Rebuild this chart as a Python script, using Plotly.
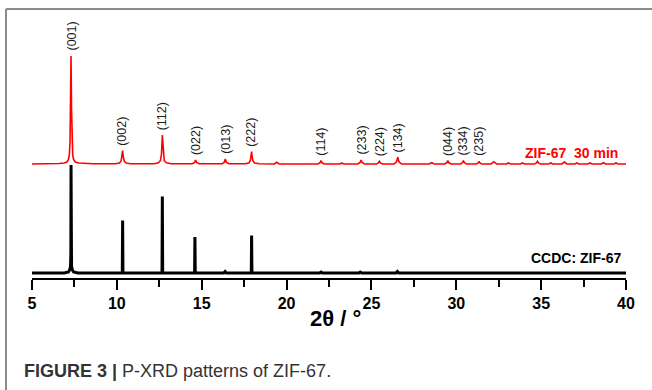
import numpy as np
import plotly.graph_objects as go

# ---------------- data ----------------
# ZIF-67 30 min (red) : 2theta and intensity above its own baseline
RED_2THETA = [5.0, 5.8, 6.05, 6.3, 6.6, 6.9, 7.05, 7.15, 7.20, 7.24, 7.27, 7.30, 7.33, 7.36, 7.40, 7.45, 7.55, 7.75, 8.1, 8.6,
              9.9, 10.15, 10.25, 10.31, 10.34, 10.37, 10.43, 10.55, 10.8,
              12.2, 12.45, 12.57, 12.63, 12.68, 12.73, 12.79, 12.92, 13.2,
              14.45, 14.58, 14.64, 14.70, 14.85,
              16.2, 16.33, 16.39, 16.45, 16.6,
              17.55, 17.78, 17.87, 17.91, 17.94, 17.97, 18.01, 18.12, 18.4,
              19.28, 19.42, 19.56,
              21.85, 21.97, 22.03, 22.09, 22.22,
              23.1, 23.25, 23.4,
              24.2, 24.33, 24.39, 24.45, 24.6,
              25.3, 25.41, 25.47, 25.53, 25.65,
              26.33, 26.48, 26.55, 26.62, 26.78,
              28.4, 28.55, 28.7,
              29.3, 29.44, 29.50, 29.56, 29.7,
              30.25, 30.36, 30.42, 30.48, 30.6,
              31.18, 31.29, 31.34, 31.39, 31.5,
              32.05, 32.22, 32.38,
              32.95, 33.07, 33.2,
              33.78, 33.9, 34.02,
              34.6, 34.72, 34.78, 34.84, 34.96,
              35.44, 35.56, 35.68,
              36.22, 36.37, 36.52,
              36.98, 37.1, 37.22,
              37.76, 37.88, 38.0,
              38.54, 38.67, 38.8,
              39.29, 39.41, 39.53,
              40.0]
RED_I = [0.0, 0.0, 0.6, 0.3, 0.5, 1.0, 2.0, 4.5, 9.0, 22.0, 55.0, 108.0, 55.0, 22.0, 9.0, 4.5, 2.0, 1.0, 0.5, 0.3,
         0.3, 1.0, 3.0, 8.0, 13.3, 8.0, 3.0, 1.0, 0.3,
         0.3, 1.2, 3.5, 10.0, 29.0, 10.0, 3.5, 1.2, 0.3,
         0.2, 1.5, 4.0, 1.5, 0.2,
         0.2, 1.8, 5.0, 1.8, 0.2,
         0.2, 1.0, 3.5, 7.5, 12.3, 7.5, 3.5, 1.0, 0.2,
         0.0, 1.7, 0.0,
         0.0, 1.2, 3.3, 1.2, 0.0,
         0.0, 0.8, 0.0,
         0.0, 1.5, 4.0, 1.5, 0.0,
         0.0, 1.0, 2.7, 1.0, 0.0,
         0.0, 2.2, 6.7, 2.2, 0.0,
         0.0, 1.3, 0.0,
         0.0, 1.2, 3.3, 1.2, 0.0,
         0.0, 1.2, 3.3, 1.2, 0.0,
         0.0, 1.0, 2.7, 1.0, 0.0,
         0.0, 2.3, 0.0,
         0.0, 1.0, 0.0,
         0.0, 1.0, 0.0,
         0.0, 1.0, 2.7, 1.0, 0.0,
         0.0, 1.0, 0.0,
         0.0, 2.0, 0.0,
         0.0, 1.0, 0.0,
         0.0, 1.0, 0.0,
         0.0, 1.3, 0.0,
         0.0, 1.0, 0.0,
         0.0]
RED_OFFSET = 109.0

# CCDC: ZIF-67 simulated pattern (black sticks)
BLACK_2THETA = [5.0, 6.9, 7.15, 7.22, 7.27, 7.29, 7.30, 7.31, 7.33, 7.38, 7.45, 7.7,
                10.32, 10.34, 10.36,
                12.66, 12.68, 12.70,
                14.58, 14.60, 14.62,
                16.30, 16.38, 16.46,
                17.92, 17.94, 17.96,
                21.95, 22.03, 22.11,
                24.26, 24.34, 24.42,
                26.45, 26.53, 26.61,
                40.0]
BLACK_I = [0.0, 0.0, 1.0, 3.0, 7.0, 20.0, 108.0, 20.0, 7.0, 3.0, 1.0, 0.0,
           0.0, 52.6, 0.0,
           0.0, 76.6, 0.0,
           0.0, 36.0, 0.0,
           0.0, 1.5, 0.0,
           0.0, 37.6, 0.0,
           0.0, 1.0, 0.0,
           0.0, 1.0, 0.0,
           0.0, 1.5, 0.0,
           0.0]

PEAK_LABELS = ["(001)", "(002)", "(112)", "(022)", "(013)", "(222)", "(114)",
               "(233)", "(224)", "(134)", "(044)", "(334)", "(235)"]
PEAK_2THETA = [7.30, 10.34, 12.68, 14.64, 16.39, 17.94, 22.03,
               24.39, 25.47, 26.55, 29.50, 30.42, 31.34]

X_TICKS = [5, 10, 15, 20, 25, 30, 35, 40]

# ---------------- figure ----------------
W, H = 652, 390
ML, MR, MT, MB = 32, 26, 20, 112
PW, PH = W - ML - MR, H - MT - MB


def px2paper(px, py):
    return (px - ML) / PW, (H - MB - py) / PH


fig = go.Figure()
fig.add_trace(go.Scatter(x=BLACK_2THETA, y=BLACK_I, mode="lines",
                         line=dict(color="black", width=3), hoverinfo="skip"))
fig.add_trace(go.Scatter(x=RED_2THETA, y=np.array(RED_I) + RED_OFFSET, mode="lines",
                         line=dict(color="#ff0000", width=1.6), hoverinfo="skip"))

rx = np.array(RED_2THETA)
ri = np.array(RED_I)
annotations = []
for lab, c in zip(PEAK_LABELS, PEAK_2THETA):
    h = ri[np.abs(rx - c) < 0.1].max() + RED_OFFSET
    annotations.append(dict(x=c, y=h, xref="x", yref="y", text=lab, textangle=-90,
                            showarrow=False, xanchor="center", yanchor="bottom", yshift=3,
                            font=dict(family="Arial", size=12.5, color="#1a1a1a")))

annotations += [
    dict(x=39.65, y=RED_OFFSET + 11.5, xref="x", yref="y", text="ZIF-67  30 min",
         showarrow=False, xanchor="right", yanchor="middle",
         font=dict(family="Arial", size=14, color="#ff0000", weight="bold")),
    dict(x=39.84, y=14.7, xref="x", yref="y", text="CCDC: ZIF-67",
         showarrow=False, xanchor="right", yanchor="middle",
         font=dict(family="Arial", size=14, color="black", weight="bold")),
]
tx, ty = px2paper(335, 318)
annotations.append(dict(x=tx, y=ty, xref="paper", yref="paper", text="2θ / °",
                        showarrow=False, xanchor="center", yanchor="middle",
                        font=dict(family="Arial", size=22, color="black", weight="bold")))
cx, cy = px2paper(22, 371)
annotations.append(dict(x=cx, y=cy, xref="paper", yref="paper",
                        text="<b>FIGURE 3 |</b> P-XRD patterns of ZIF-67.",
                        showarrow=False, xanchor="left", yanchor="middle",
                        font=dict(family="Liberation Sans, Arial", size=18, color="#333333")))

x0, y0 = px2paper(6, 9)
x1, _ = px2paper(652, 9)
_, y1 = px2paper(6, 390)
shapes = [
    dict(type="line", xref="paper", yref="paper", x0=x0, x1=x1, y0=y0, y1=y0,
         line=dict(color="#8c8c8c", width=2)),
    dict(type="line", xref="paper", yref="paper", x0=x0, x1=x0, y0=y0, y1=y1,
         line=dict(color="#8c8c8c", width=2)),
]

fig.update_layout(
    width=W, height=H, autosize=False,
    margin=dict(l=ML, r=MR, t=MT, b=MB, pad=0),
    paper_bgcolor="white", plot_bgcolor="white",
    showlegend=False,
    annotations=annotations, shapes=shapes,
    xaxis=dict(range=[5, 40], tickvals=X_TICKS, ticktext=[str(v) for v in X_TICKS],
               showline=True, linecolor="black", linewidth=2,
               ticks="outside", ticklen=10, tickwidth=2, tickcolor="black",
               minor=dict(ticks="outside", ticklen=7, tickwidth=2, tickcolor="black",
                          tickvals=[7.5, 12.5, 17.5, 22.5, 27.5, 32.5, 37.5]),
               showgrid=False, zeroline=False,
               tickfont=dict(family="Arial", size=16, color="black", weight="bold")),
    yaxis=dict(range=[-5, PH - 5], visible=False, showgrid=False, zeroline=False),
)

fig.write_html("out.html")
